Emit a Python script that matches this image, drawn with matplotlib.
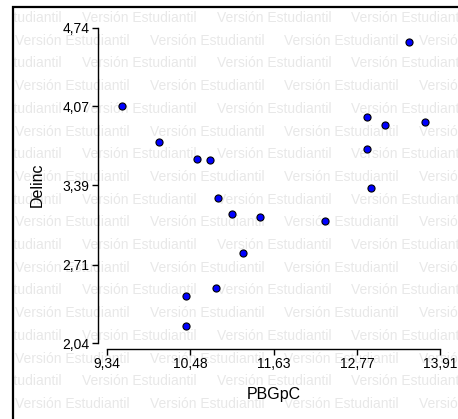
import matplotlib
matplotlib.use("Agg")
import matplotlib.pyplot as plt
from matplotlib.patches import Rectangle

plt.rcParams['font.family'] = ['Liberation Sans', 'DejaVu Sans']

# Data
pbgpc = [9.54, 10.06, 10.58, 10.75, 10.86, 11.06, 11.44, 11.21, 10.84,
         10.43, 10.43, 12.33, 12.91, 13.15, 13.71, 12.91, 12.97, 13.49]
delinc = [4.07, 3.76, 3.62, 3.61, 3.28, 3.15, 3.12, 2.81, 2.51,
          2.44, 2.19, 3.09, 3.98, 3.91, 3.93, 3.70, 3.37, 4.62]
xticks = [9.34, 10.48, 11.63, 12.77, 13.91]
yticks = [2.04, 2.71, 3.39, 4.07, 4.74]
xtick_labels = ["9,34", "10,48", "11,63", "12,77", "13,91"]
ytick_labels = ["2,04", "2,71", "3,39", "4,07", "4,74"]
watermark = "Versión Estudiantil"

W, H = 458, 419
fig = plt.figure(figsize=(W / 100, H / 100), dpi=100)

# Background watermark area (inside frame)
fx0, fy0 = 12.5, 7.0  # frame left, top in px
bg = fig.add_axes([fx0 / W, 0, 1 - fx0 / W + 0.02, 1 - fy0 / H])
bg.set_xlim(fx0, W + 10)
bg.set_ylim(H, fy0)
bg.axis('off')
bg.set_zorder(0)
row_h = 22.7
for r in range(20):
    yc = 18 + r * row_h
    if yc > H + 15:
        break
    start = 82 if r % 2 == 0 else 15
    x = start - 135 * 2
    while x < W + 10:
        bg.text(x, yc, watermark, fontsize=10, color='#e8e8e8',
                ha='left', va='center', clip_on=True)
        x += 135

# Frame
fig.add_artist(Rectangle((fx0 / W, -0.1), 1.2, (H - fy0) / H + 0.1,
                         transform=fig.transFigure, fill=False,
                         edgecolor='black', linewidth=1.6, zorder=5))

# Main axes
px_x = 72.6   # px per unit x
px_y = 116.7  # px per unit y
xl = 9.34 - 9 / px_x
xr = 13.91 + 10 / px_x
yb = 2.04 - 6 / px_y
yt = 4.74 + 8 / px_y
ax = fig.add_axes([98 / W, (H - 349) / H, (450 - 98) / W, (349 - 20) / H])
ax.set_zorder(2)
ax.patch.set_visible(False)
ax.set_xlim(xl, xr)
ax.set_ylim(yb, yt)

ax.scatter(pbgpc, delinc, s=26, c='#0000ff', edgecolors='black',
           linewidths=0.8, zorder=3)

for s in ['top', 'right']:
    ax.spines[s].set_visible(False)
ax.spines['bottom'].set_bounds(xticks[0], xticks[-1])
ax.spines['left'].set_bounds(yticks[0], yticks[-1])
ax.spines['bottom'].set_linewidth(1.0)
ax.spines['left'].set_linewidth(1.0)

ax.set_xticks(xticks)
ax.set_xticklabels(xtick_labels)
ax.set_yticks(yticks)
ax.set_yticklabels(ytick_labels)
ax.tick_params(axis='both', direction='out', length=4, width=1.0,
               labelsize=10, pad=2, colors='black')

ax.set_xlabel("PBGpC", fontsize=11.5, labelpad=11)
ax.set_ylabel("Delinc", fontsize=11.5, labelpad=13)

fig.savefig("out.png", dpi=100)
